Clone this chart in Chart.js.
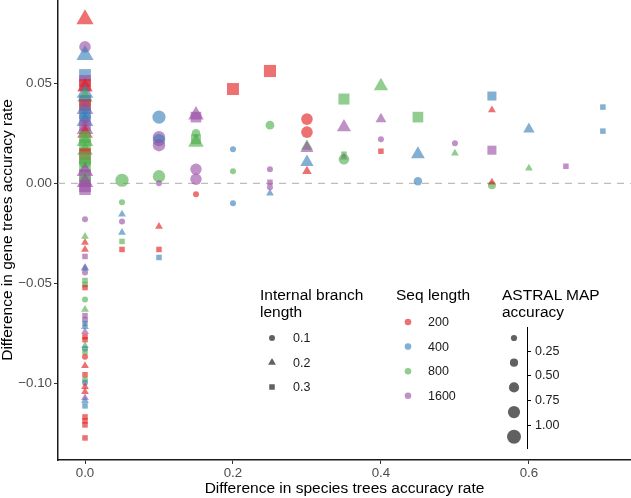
<!DOCTYPE html>
<html>
<head>
<meta charset="utf-8">
<script src="https://cdn.jsdelivr.net/npm/chart.js@4.4.1/dist/chart.umd.min.js"></script>
<style>
  body { margin: 0; background: #fff; font-family: "Liberation Sans", Arial, sans-serif; }
  #wrap { position: relative; width: 631px; height: 498px; }
  #grafico { position: absolute; left: 0; top: 0; }
  .titulo { position: absolute; font-size: 15.5px; line-height: 17px; color: #000; white-space: nowrap; }
  .rotulo { position: absolute; font-size: 12.5px; line-height: 14px; color: #1a1a1a; white-space: nowrap; }
</style>
</head>
<body>
<div id="wrap">
  <canvas id="grafico" width="631" height="498"></canvas>
  <div id="legenda"></div>
</div>
<script>
// eixo x: diferenca na acuracia das arvores de especies
const difEspecies = [
  0,0,0,0,0,0,0,0,0,0,0,0,0,0,0,0,0,0,0,0,0,0,0,0,0,0,0,0,0,0,0,0,
  0,0,0,0,0,0,0,0,0,0,0,0,0,0,0,0,0,0,0,0,0,0,0,0,0,0,0,0,0,0,0,0,0,0,0,0,0,
  0.05,0.05,0.05,0.05,0.05,0.05,0.05,
  0.1,0.1,0.1,0.1,0.1,0.1,0.1,0.1,0.1,
  0.15,0.15,0.15,0.15,0.15,0.15,0.15,0.15,
  0.2,0.2,0.2,0.2,
  0.25,0.25,0.25,0.25,0.25,0.25,
  0.3,0.3,0.3,0.3,0.3,0.3,
  0.35,0.35,0.35,0.35,0.35,
  0.4,0.4,0.4,0.4,
  0.45,0.45,0.45,
  0.5,0.5,
  0.55,0.55,0.55,0.55,0.55,
  0.6,0.6,
  0.65,
  0.7,0.7
];
// eixo y: diferenca na acuracia das arvores de genes
const difGenes = [
  0.0818,0.068,0.064,0.054,0.051,0.049,0.048,0.045,0.043,0.041,0.039,0.037,0.035,0.033,0.031,0.029,
  0.027,0.025,0.023,0.021,0.019,0.0165,0.0145,0.0125,0.0105,0.0085,0.006,0.004,0.002,0.0005,-0.0015,-0.003,
  -0.018,-0.0265,-0.0295,-0.033,-0.0365,-0.042,-0.0425,-0.0445,-0.0485,-0.0505,-0.052,-0.058,-0.063,-0.066,-0.068,-0.070,-0.0715,-0.074,
  -0.0765,-0.078,-0.081,-0.0825,-0.084,-0.0865,-0.091,-0.0955,-0.098,-0.0995,-0.1015,-0.104,-0.107,-0.1085,-0.111,-0.1165,-0.1185,-0.1205,-0.127,
  0.0015,-0.0095,-0.0155,-0.019,-0.0245,-0.029,-0.033,
  0.033,0.023,0.0215,0.019,0.0035,0.0,-0.0215,-0.033,-0.037,
  0.034,0.033,0.025,0.022,0.0205,0.007,0.002,-0.0055,
  0.047,0.017,0.006,-0.010,
  0.056,0.029,0.007,0.0005,-0.002,-0.005,
  0.032,0.0255,0.0185,0.0175,0.0105,0.006,
  0.042,0.028,0.0145,0.013,0.012,
  0.0485,0.032,0.022,0.016,
  0.033,0.0145,0.001,
  0.020,0.015,
  0.0435,0.0365,0.0165,-0.001,0.0005,
  0.027,0.0075,
  0.0085,
  0.038,0.026
];
// comprimento do ramo interno (forma)
const ramoInterno = [
  0.2,0.1,0.2,0.3,0.3,0.3,0.2,0.2,0.2,0.3,0.3,0.2,0.3,0.1,0.2,0.3,
  0.2,0.2,0.3,0.2,0.3,0.2,0.3,0.3,0.1,0.3,0.2,0.3,0.1,0.2,0.3,0.3,
  0.1,0.2,0.2,0.2,0.3,0.2,0.2,0.1,0.3,0.3,0.3,0.1,0.2,0.3,0.1,0.3,0.2,0.2,
  0.3,0.3,0.2,0.1,0.3,0.1,0.2,0.3,0.1,0.1,0.2,0.2,0.2,0.2,0.3,0.3,0.3,0.3,0.3,
  0.1,0.1,0.2,0.1,0.2,0.3,0.3,
  0.1,0.1,0.1,0.1,0.1,0.1,0.2,0.3,0.3,
  0.2,0.3,0.1,0.3,0.2,0.1,0.1,0.1,
  0.3,0.1,0.1,0.1,
  0.3,0.1,0.1,0.3,0.1,0.2,
  0.1,0.1,0.2,0.2,0.2,0.2,
  0.3,0.2,0.3,0.2,0.1,
  0.2,0.2,0.1,0.3,
  0.3,0.2,0.1,
  0.1,0.2,
  0.3,0.2,0.3,0.1,0.2,
  0.2,0.2,
  0.3,
  0.3,0.3
];
// comprimento da sequencia (cor)
const tamSeq = [
  200,1600,400,400,1600,200,200,400,800,400,200,1600,400,400,400,1600,
  1600,200,800,800,800,800,200,800,800,800,1600,1600,800,1600,1600,1600,
  1600,800,200,200,1600,1600,400,1600,800,800,200,800,800,1600,1600,400,400,1600,
  200,200,800,400,800,200,200,200,800,400,200,200,1600,400,400,200,200,200,200,
  800,800,400,1600,400,800,200,
  400,1600,400,1600,800,1600,200,200,400,
  1600,1600,800,800,800,1600,1600,200,
  200,400,800,400,
  200,800,1600,1600,1600,400,
  200,200,800,1600,400,200,
  800,1600,800,1600,800,
  800,1600,1600,200,
  800,400,400,
  1600,800,
  400,200,1600,800,200,
  400,800,
  1600,
  400,400
];
// acuracia do ASTRAL MAP (tamanho)
const acuraciaMap = [
  1.0,0.8,1.0,0.95,0.95,0.95,0.85,0.95,0.85,0.95,0.95,0.95,0.95,0.85,0.95,0.95,
  0.95,0.85,0.95,0.95,0.95,0.85,0.95,0.95,0.85,0.95,0.95,0.95,0.85,0.95,0.95,0.9,
  0.1,0.1,0.1,0.1,0.1,0.1,0.1,0.1,0.1,0.1,0.1,0.1,0.1,0.1,0.1,0.1,0.1,0.1,
  0.1,0.1,0.1,0.1,0.1,0.1,0.1,0.1,0.1,0.1,0.1,0.1,0.1,0.1,0.1,0.1,0.1,0.1,0.1,
  1.0,0.1,0.1,0.1,0.1,0.1,0.1,
  1.0,0.9,0.9,0.9,0.9,0.1,0.1,0.1,0.1,
  0.85,0.8,0.4,0.7,0.85,0.77,0.77,0.1,
  0.98,0.1,0.1,0.1,
  1.0,0.44,0.1,0.1,0.1,0.1,
  0.8,0.8,0.5,0.6,0.63,0.28,
  0.85,0.7,0.1,0.1,0.68,
  0.73,0.4,0.1,0.1,
  0.8,0.68,0.4,
  0.1,0.1,
  0.58,0.1,0.58,0.35,0.1,
  0.45,0.1,
  0.1,
  0.1,0.1
];

const niveisRamo = [0.1, 0.2, 0.3];
const niveisSeq = [200, 400, 800, 1600];
const quebrasAcuracia = [0.25, 0.50, 0.75, 1.00];
const chavesAcuracia = [0.125, 0.375, 0.625, 0.875, 1.1];
const xTicks = [0, 0.2, 0.4, 0.6];
const yTicks = [-0.10, -0.05, 0, 0.05];
const xMin = -0.0365, xMax = 0.738, yMin = -0.138, yMax = 0.0914;

const cores = { 200: 'rgba(228,26,28,0.62)', 400: 'rgba(55,126,184,0.62)', 800: 'rgba(77,175,74,0.62)', 1600: 'rgba(152,78,163,0.62)' };
const formas = { 0.1: 'circle', 0.2: 'triangle', 0.3: 'rect' };
const fatorForma = { circle: 1, triangle: 1.5, rect: 1.3 };
const cinzaLegenda = 'rgba(0,0,0,0.62)';

function raio(acc, forma) {
    return (2.6 + 4.0 * acc) * fatorForma[forma];
}

function desenharForma(ctx, forma, x, y, r) {
    ctx.beginPath();
    if (forma === 'circle') {
        ctx.arc(x, y, r, 0, Math.PI * 2);
    } else if (forma === 'triangle') {
        for (let k = 0; k < 3; k++) {
            const a = -Math.PI / 2 + k * 2 * Math.PI / 3;
            const px = x + Math.cos(a) * r, py = y + Math.sin(a) * r;
            k === 0 ? ctx.moveTo(px, py) : ctx.lineTo(px, py);
        }
        ctx.closePath();
    } else {
        const s = r * Math.SQRT1_2;
        ctx.rect(x - s, y - s, 2 * s, 2 * s);
    }
    ctx.fill();
}

// simbolos das legendas desenhados no canvas
const legendaSimbolos = {
    id: 'legendaSimbolos',
    afterDraw(chart) {
        const ctx = chart.ctx;
        ctx.save();
        ctx.fillStyle = cinzaLegenda;
        niveisRamo.forEach((r, i) => {
            const f = formas[r];
            desenharForma(ctx, f, 272, 338 + i * 24.5, raio(0.1, f));
        });
        niveisSeq.forEach((s, i) => {
            ctx.fillStyle = cores[s];
            desenharForma(ctx, 'circle', 408, 322 + i * 24.6, 3.3);
        });
        ctx.fillStyle = cinzaLegenda;
        chavesAcuracia.forEach((a, i) => {
            desenharForma(ctx, 'circle', 514, 338 + i * 24.7, raio(a, 'circle'));
        });
        ctx.strokeStyle = '#000';
        ctx.lineWidth = 1;
        ctx.beginPath();
        ctx.moveTo(527.5, 327);
        ctx.lineTo(527.5, 449);
        quebrasAcuracia.forEach((q, i) => {
            const ty = Math.round(350.5 + i * 24.7) + 0.5;
            ctx.moveTo(527.5, ty);
            ctx.lineTo(531, ty);
        });
        ctx.stroke();
        ctx.restore();
    }
};

function montarLegenda() {
    const leg = document.getElementById('legenda');
    let html = '';
    html += `<div class="titulo" style="left:260px;top:286px">Internal branch<br>length</div>`;
    niveisRamo.forEach((r, i) => {
        html += `<div class="rotulo" style="left:293px;top:${338 + i * 24.5 - 7}px">${r.toFixed(1)}</div>`;
    });
    html += `<div class="titulo" style="left:396px;top:286px">Seq length</div>`;
    niveisSeq.forEach((s, i) => {
        html += `<div class="rotulo" style="left:428px;top:${322 + i * 24.6 - 7}px">${s}</div>`;
    });
    html += `<div class="titulo" style="left:502px;top:286px">ASTRAL MAP<br>accuracy</div>`;
    quebrasAcuracia.forEach((q, i) => {
        html += `<div class="rotulo" style="left:535px;top:${350.5 + i * 24.7 - 7}px">${q.toFixed(2)}</div>`;
    });
    leg.innerHTML = html;
}

function formatarY(v) {
    if (Math.abs(v) < 1e-9) return '0.00';
    return v.toFixed(2).replace('-', '\u2212');
}

function criarGrafico() {
    const pontos = difEspecies.map((x, i) => ({ x: x, y: difGenes[i] }));
    const fonteTick = { family: '"Liberation Sans", Arial, sans-serif', size: 13.3 };
    const fonteTitulo = { family: '"Liberation Sans", Arial, sans-serif', size: 15.5, lineHeight: 1 };

    new Chart(document.getElementById('grafico'), {
        type: 'scatter',
        data: {
            datasets: [{
                data: pontos,
                pointStyle: ctx => formas[ramoInterno[ctx.dataIndex]],
                pointRadius: ctx => raio(acuraciaMap[ctx.dataIndex], formas[ramoInterno[ctx.dataIndex]]),
                backgroundColor: ctx => cores[tamSeq[ctx.dataIndex]],
                borderWidth: 0,
                order: 1
            }, {
                data: [{ x: xMin, y: 0 }, { x: xMax, y: 0 }],
                showLine: true,
                pointRadius: 0,
                borderColor: '#bdbdbd',
                borderWidth: 1.3,
                borderDash: [7, 6],
                order: 2
            }]
        },
        options: {
            responsive: false,
            animation: false,
            events: [],
            layout: { padding: 0, autoPadding: false },
            plugins: { legend: { display: false }, tooltip: { enabled: false } },
            scales: {
                x: {
                    type: 'linear',
                    min: xMin,
                    max: xMax,
                    afterBuildTicks: s => { s.ticks = xTicks.map(v => ({ value: v })); },
                    afterFit: s => { s.height = 38; s.paddingLeft = 0; s.paddingRight = 0; },
                    ticks: { callback: v => v.toFixed(1), color: '#4d4d4d', font: fonteTick, padding: 1, maxRotation: 0 },
                    grid: { drawOnChartArea: false, drawTicks: true, tickLength: 4, color: '#333' },
                    border: { display: true, color: '#1a1a1a', width: 1.5 },
                    title: { display: true, text: 'Difference in species trees accuracy rate', color: '#000', font: fonteTitulo, padding: { top: 0, bottom: 2 } }
                },
                y: {
                    type: 'linear',
                    min: yMin,
                    max: yMax,
                    afterBuildTicks: s => { s.ticks = yTicks.map(v => ({ value: v })); },
                    afterFit: s => { s.width = 58; s.paddingTop = 0; s.paddingBottom = 0; },
                    ticks: { callback: v => formatarY(v), color: '#4d4d4d', font: fonteTick, padding: 2 },
                    grid: { drawOnChartArea: false, drawTicks: true, tickLength: 4, color: '#333' },
                    border: { display: true, color: '#1a1a1a', width: 1.5 },
                    title: { display: true, text: 'Difference in gene trees accuracy rate', color: '#000', font: fonteTitulo, padding: { top: 0, bottom: 0 } }
                }
            }
        },
        plugins: [legendaSimbolos]
    });
}

montarLegenda();
criarGrafico();
</script>
</body>
</html>
